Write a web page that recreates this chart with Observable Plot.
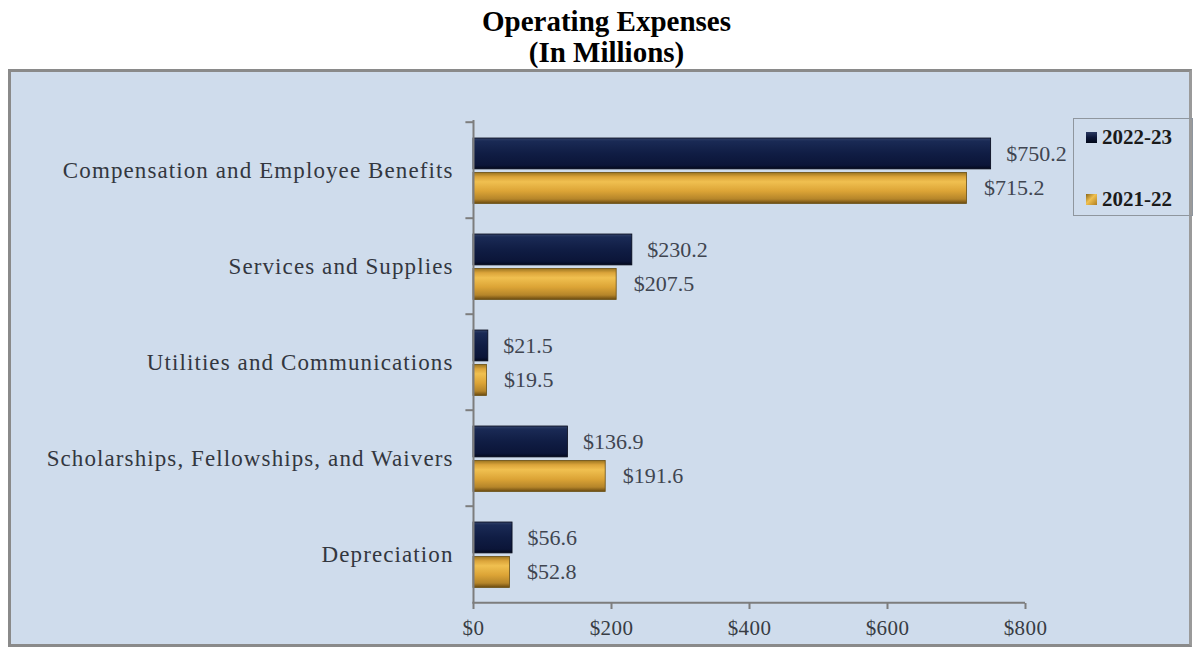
<!DOCTYPE html>
<html>
<head>
<meta charset="utf-8">
<script src="https://cdn.jsdelivr.net/npm/d3@7"></script>
<script src="https://cdn.jsdelivr.net/npm/@observablehq/plot@0.6"></script>
<style>
  html, body { margin: 0; padding: 0; background: #ffffff; width: 1193px; height: 647px; overflow: hidden; }
  #title { position: absolute; left: 0; top: 6px; width: 1213px; text-align: center;
    font-family: "Liberation Serif", "Times New Roman", serif; font-weight: bold; font-size: 29px; line-height: 31px; color: #000; }
  #panel { position: absolute; left: 8px; top: 69px; width: 1178px; height: 572px;
    background: #cfdcec; border: 3px solid #8a8a8a; border-right-color: #9a9a9a; }
  #chart { position: absolute; left: 0; top: 0; }
  #legend { position: absolute; left: 1062px; top: 46px; width: 118px; height: 96px;
    border: 1px solid #8f969e; font-family: "Liberation Serif", serif; font-weight: bold; font-size: 21px; color: #1a1a1a; }
  .item { position: absolute; left: 12px; display: flex; align-items: center; }
  .sw { width: 11px; height: 11px; margin-right: 5px; }
  g[aria-label="y-axis tick label"] text { letter-spacing: 1.1px; }
  g[aria-label="x-axis tick label"] text { letter-spacing: 0.4px; }
  g[aria-label="value-label"] text { letter-spacing: 0.5px; }
</style>
</head>
<body>
<div id="title">Operating Expenses<br>(In Millions)</div>
<div id="panel">
  <div id="chart"></div>
  <div id="legend"></div>
</div>
<script>
const categories = [
  "Compensation and Employee Benefits",
  "Services and Supplies",
  "Utilities and Communications",
  "Scholarships, Fellowships, and Waivers",
  "Depreciation"
];
const series = ["2022-23", "2021-22"];
const values2223 = [750.2, 230.2, 21.5, 136.9, 56.6];
const values2122 = [715.2, 207.5, 19.5, 191.6, 52.8];
const xTicks = [0, 200, 400, 600, 800];

const data23 = categories.map((c, i) => ({category: c, value: values2223[i]}));
const data22 = categories.map((c, i) => ({category: c, value: values2122[i]}));

const W = 1178, H = 572;
const mt = 48, mb = 41, ml = 462, mr = 164;
const band = (H - mt - mb) / categories.length;
const axisColor = "#7d7d7d";
const fmt = v => "$" + v.toFixed(1);

const chart = Plot.plot({
  width: W,
  height: H,
  marginTop: mt,
  marginBottom: mb,
  marginLeft: ml,
  marginRight: mr,
  style: {background: "transparent", fontFamily: "'Liberation Serif', 'Times New Roman', serif", fontSize: "21px", color: "#333"},
  x: {domain: [0, 800]},
  y: {domain: categories, padding: 0},
  marks: [
    Plot.barX(data23, {x: "value", y: "category", fill: "url(#gDark)", stroke: "#05091a", strokeWidth: 0.8, insetTop: 16, insetBottom: band - 47.5}),
    Plot.barX(data22, {x: "value", y: "category", fill: "url(#gGold)", stroke: "#6a4e10", strokeWidth: 0.8, insetTop: 50.5, insetBottom: band - 82}),
    Plot.ruleX([0], {stroke: axisColor, strokeWidth: 2}),
    Plot.ruleY(categories, {y: d => d, x1: -11, x2: 0, dy: -band / 2, stroke: axisColor, strokeWidth: 2}),
    Plot.ruleY([categories[categories.length - 1]], {y: d => d, x1: -1, x2: 800, dy: band / 2, stroke: axisColor, strokeWidth: 2}),
    Plot.text(data23, {x: "value", y: "category", text: d => fmt(d.value), textAnchor: "start", dx: 15, dy: -band / 2 + 32, fill: "#404550", fontSize: 22, ariaLabel: "value-label"}),
    Plot.text(data22, {x: "value", y: "category", text: d => fmt(d.value), textAnchor: "start", dx: 17, dy: -band / 2 + 66, fill: "#404550", fontSize: 22, ariaLabel: "value-label"}),
    Plot.axisY({tickSize: 0, tickPadding: 20, fill: "#33373f", fontSize: 23, label: null}),
    Plot.axisX({ticks: xTicks, tickFormat: d => "$" + d, tickSize: 6, tickPadding: 11, stroke: axisColor, strokeWidth: 2, fill: "#383c44", fontSize: 21, label: null})
  ]
});

const defs = `
<defs>
  <linearGradient id="gDark" x1="0" y1="0" x2="0" y2="1">
    <stop offset="0" stop-color="#34446a"/>
    <stop offset="0.1" stop-color="#1a2a55"/>
    <stop offset="0.5" stop-color="#101d44"/>
    <stop offset="0.88" stop-color="#0b1538"/>
    <stop offset="1" stop-color="#03081c"/>
  </linearGradient>
  <linearGradient id="gGold" x1="0" y1="0" x2="0" y2="1">
    <stop offset="0" stop-color="#9a7420"/>
    <stop offset="0.14" stop-color="#dba43a"/>
    <stop offset="0.3" stop-color="#f0c050"/>
    <stop offset="0.6" stop-color="#dca436"/>
    <stop offset="0.86" stop-color="#b5852a"/>
    <stop offset="1" stop-color="#6a4a10"/>
  </linearGradient>
</defs>`;
chart.insertAdjacentHTML("afterbegin", defs);
document.getElementById("chart").appendChild(chart);

const legend = document.getElementById("legend");
const swatches = ["linear-gradient(#2a3a62, #0c1638 50%, #020818)", "linear-gradient(135deg, #8a6618, #f0c050 45%, #b07e20 100%)"];
series.forEach((s, i) => {
  const item = document.createElement("div");
  item.className = "item";
  item.style.top = (i === 0 ? 6 : 68) + "px";
  const sw = document.createElement("div");
  sw.className = "sw";
  sw.style.background = swatches[i];
  const t = document.createElement("span");
  t.textContent = s;
  item.appendChild(sw);
  item.appendChild(t);
  legend.appendChild(item);
});
</script>
</body>
</html>
